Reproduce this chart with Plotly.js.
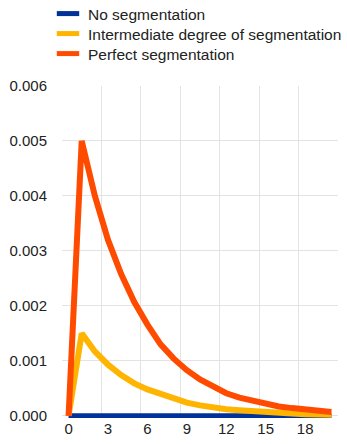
<!DOCTYPE html>
<html>
<head>
<meta charset="utf-8">
<script src="https://cdn.plot.ly/plotly-3.0.1.min.js"></script>
<style>html,body{margin:0;padding:0;background:#fff;}#chart{width:347px;height:444px;}</style>
</head>
<body>
<div id="chart"></div>
<script>
var periods = [0,1,2,3,4,5,6,7,8,9,10,11,12,13,14,15,16,17,18,19,20];
var seriesNames = ["No segmentation", "Intermediate degree of segmentation", "Perfect segmentation"];
var noSegmentation = [0,0,0,0,0,0,0,0,0,0,0,0,0,0,0,0,0,0,0,0,0];
var intermediateSegmentation = [0,0.0015,0.00117,0.00093,0.00074,0.00059,0.00048,0.00040,0.00031,0.00024,0.00019,0.00015,0.00012,0.0001,0.00008,0.00006,0.00005,0.00004,0.00003,0.00003,0.00002];
var perfectSegmentation = [0,0.005,0.004,0.0032,0.00258,0.00207,0.00166,0.0013,0.00104,0.00083,0.00066,0.00052,0.00041,0.00033,0.00027,0.00021,0.00017,0.00014,0.00011,0.00009,0.00007];
var xTickVals = [0,3,6,9,12,15,18];
var xGridVals = [-0.5,2.5,5.5,8.5,11.5,14.5,17.5,20.5];
var yTickVals = [0,0.001,0.002,0.003,0.004,0.005,0.006];
var yTickText = ["0.000","0.001","0.002","0.003","0.004","0.005","0.006"];

var colors = ["#003299", "#FFB400", "#FF4B00"];
var values = [noSegmentation, intermediateSegmentation, perfectSegmentation];
var widths = [5, 6, 6];
var legendIds = ["legend", "legend2", "legend3"];
var legendY = [1 - 14/444, 1 - 34/444, 1 - 54/444];

var traces = [];
for (var i = 0; i < 3; i++) {
  traces.push({
    x: periods, y: values[i], type: "scatter", mode: "lines",
    line: {color: colors[i], width: widths[i]},
    name: seriesNames[i], showlegend: false, hoverinfo: "skip"
  });
}
for (var j = 0; j < 3; j++) {
  traces.push({
    x: [null], y: [null], type: "scatter", mode: "markers",
    marker: {symbol: "line-ew", size: 16, color: colors[j], line: {color: colors[j], width: 5}},
    name: seriesNames[j], showlegend: true, legend: legendIds[j]
  });
}

var font = "Liberation Sans, Arial, sans-serif";
var layout = {
  width: 347, height: 444,
  margin: {l: 62, r: 9, t: 86, b: 26, autoexpand: false},
  paper_bgcolor: "#fff", plot_bgcolor: "#fff",
  font: {family: font, size: 15, color: "#222"},
  showlegend: true,
  xaxis: {
    range: [-0.5, 20.5], tickmode: "array", tickvals: xTickVals,
    ticktext: xTickVals.map(String),
    showgrid: false, zeroline: false, showline: false, ticks: "",
    tickfont: {family: font, size: 15, color: "#222"},
    minor: {tickmode: "array", tickvals: xGridVals, showgrid: true, gridcolor: "#e3e3e3", gridwidth: 1, ticks: ""}
  },
  yaxis: {
    range: [-0.00004, 0.006], tickmode: "array", tickvals: yTickVals, ticktext: yTickText,
    showgrid: true, gridcolor: "#e3e3e3", gridwidth: 1,
    zeroline: true, zerolinecolor: "#e3e3e3", zerolinewidth: 1,
    showline: false, ticks: "", ticklabelstandoff: 14,
    tickfont: {family: font, size: 15, color: "#222"}
  }
};
for (var k = 0; k < 3; k++) {
  layout[legendIds[k]] = {
    xref: "container", yref: "container",
    x: 48/347, xanchor: "left", y: legendY[k], yanchor: "middle",
    font: {family: font, size: 15.5, color: "#222"},
    bgcolor: "rgba(0,0,0,0)", borderwidth: 0
  };
}

Plotly.newPlot("chart", traces, layout, {displayModeBar: false, staticPlot: true});
</script>
</body>
</html>
